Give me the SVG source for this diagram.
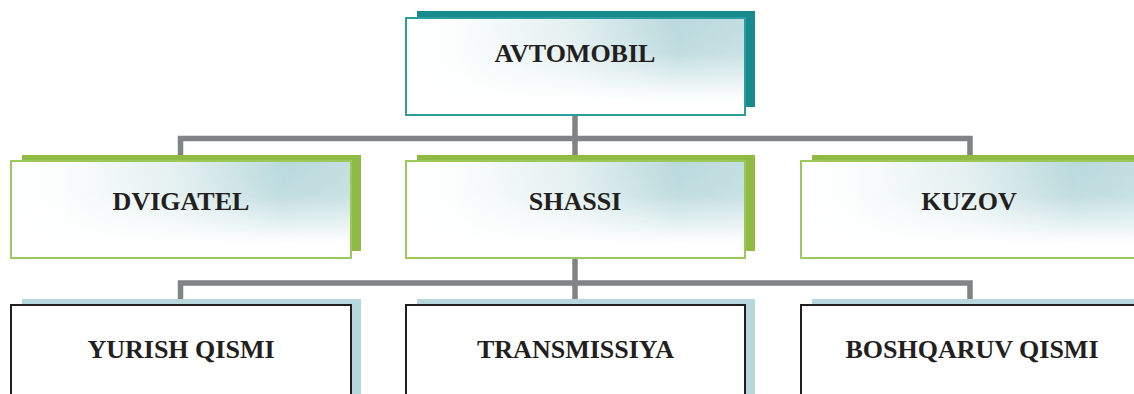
<svg xmlns="http://www.w3.org/2000/svg" width="1134" height="394" viewBox="0 0 1134 394">
<defs>
<linearGradient id="gh" x1="0" y1="0" x2="1" y2="0">
<stop offset="0" stop-color="#ffffff"/>
<stop offset="0.15" stop-color="#fbfdfd"/>
<stop offset="0.5" stop-color="#e2eff0"/>
<stop offset="0.8" stop-color="#b9d9dc"/>
<stop offset="1" stop-color="#c2dee1"/>
</linearGradient>
<linearGradient id="gv" x1="0" y1="0" x2="0" y2="1">
<stop offset="0" stop-color="#ffffff" stop-opacity="0"/>
<stop offset="0.35" stop-color="#ffffff" stop-opacity="0.1"/>
<stop offset="0.85" stop-color="#ffffff" stop-opacity="1"/>
<stop offset="1" stop-color="#ffffff" stop-opacity="1"/>
</linearGradient>
</defs>
<style>
.conn{fill:none;stroke:#818386;stroke-width:5.5;stroke-linejoin:miter}
.lbl{font-family:"Liberation Serif","Times New Roman",serif;font-weight:bold;font-size:26px;fill:#231f20;text-anchor:middle}
.tealsh{fill:#178b8b}
.greensh{fill:#8fbb45}
.bluesh{fill:#b6d8dc}
.tealbd{stroke:#2c9c9c;stroke-width:2}
.greenbd{stroke:#9cc75a;stroke-width:2}
.darkbd{fill:#ffffff;stroke:#231f20;stroke-width:2}
</style>
<rect width="1134" height="394" fill="#ffffff"/>
<g id="connectors">
<path class="conn" d="M575 112 V160 M180.5 158 V138.5 H970 V158"/>
<path class="conn" d="M575 256 V303 M180.5 303 V283 H970 V303"/>
</g>
<g id="node-avtomobil">
<rect class="tealsh" x="417" y="11" width="338" height="96"/>
<rect x="406" y="18" width="339" height="97" fill="url(#gh)"/>
<rect x="406" y="18" width="339" height="97" fill="url(#gv)"/>
<rect class="tealbd" x="406" y="18" width="339" height="97" fill="none"/>
<text class="lbl" x="575" y="62">AVTOMOBIL</text>
</g>
<g id="node-dvigatel">
<rect class="greensh" x="22" y="155" width="339" height="96"/>
<rect x="11" y="161" width="340" height="97" fill="url(#gh)"/>
<rect x="11" y="161" width="340" height="97" fill="url(#gv)"/>
<rect class="greenbd" x="11" y="161" width="340" height="97" fill="none"/>
<text class="lbl" x="181" y="210">DVIGATEL</text>
</g>
<g id="node-shassi">
<rect class="greensh" x="417" y="155" width="338" height="96"/>
<rect x="406" y="161" width="339" height="97" fill="url(#gh)"/>
<rect x="406" y="161" width="339" height="97" fill="url(#gv)"/>
<rect class="greenbd" x="406" y="161" width="339" height="97" fill="none"/>
<text class="lbl" x="575" y="210">SHASSI</text>
</g>
<g id="node-kuzov">
<rect class="greensh" x="812" y="155" width="339" height="96"/>
<rect x="801" y="161" width="340" height="97" fill="url(#gh)"/>
<rect x="801" y="161" width="340" height="97" fill="url(#gv)"/>
<rect class="greenbd" x="801" y="161" width="340" height="97" fill="none"/>
<text class="lbl" x="969" y="210">KUZOV</text>
</g>
<g id="node-yurish">
<rect class="bluesh" x="22" y="299" width="339" height="100"/>
<rect class="darkbd" x="11" y="305" width="340" height="100"/>
<text class="lbl" x="181" y="358">YURISH QISMI</text>
</g>
<g id="node-transmissiya">
<rect class="bluesh" x="417" y="299" width="338" height="100"/>
<rect class="darkbd" x="406" y="305" width="339" height="100"/>
<text class="lbl" x="575.5" y="358">TRANSMISSIYA</text>
</g>
<g id="node-boshqaruv">
<rect class="bluesh" x="812" y="299" width="339" height="100"/>
<rect class="darkbd" x="801" y="305" width="340" height="100"/>
<text class="lbl" x="972" y="358">BOSHQARUV QISMI</text>
</g>
</svg>
